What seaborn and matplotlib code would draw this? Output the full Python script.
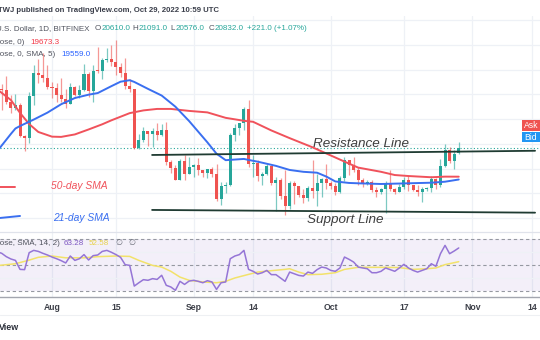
import numpy as np
import pandas as pd
import matplotlib
matplotlib.use("Agg")
import matplotlib.pyplot as plt
from matplotlib.patches import Rectangle
import seaborn as sns

# ---------------- data ----------------
start_date = "2022-07-20"
opens = [23400, 23230, 23160, 22680, 22460, 22580, 21310, 21250, 22950, 23850, 23780, 23640,
         23300, 23270, 22980, 22820, 22620, 23310, 22960, 23180, 23810, 23150, 23950, 23930,
         24400, 24440, 24300, 24100, 23850, 23340, 23200, 20830, 21140, 21520, 21400, 21530,
         21370, 21570, 20260, 20040, 19550, 20290, 19800,
         20050, 20130, 19950, 19830, 19990, 19800, 18790, 19290, 19320, 21360, 21650, 21830,
         22400, 20170, 20230, 19700, 19800, 20110, 19420, 19540, 18880, 18490, 19410, 19290,
         18920, 18800, 19220, 19090, 19410, 19590,
         19420, 19310, 19060, 19630, 20340, 20160, 19960, 19530, 19420, 19450, 19130, 19060,
         19160, 19380, 19180, 19070, 19270, 19550, 19330, 19130, 19040, 19170, 19210, 19570,
         19330, 20090, 20770, 20290, 20610]
highs = [24280, 23420, 23750, 22990, 23000, 22660, 21350, 23080, 24180, 24440, 24650, 24180,
         23500, 23450, 23650, 23200, 23450, 23350, 23380, 24240, 23920, 24200, 24900, 24450,
         24880, 25000, 25200, 24250, 24450, 23600, 23200, 21380, 21700, 21520, 21650, 21850,
         21800, 21870, 20350, 20150, 20400, 20560, 20480,
         20200, 20440, 19960, 20000, 20050, 20170, 19460, 19450, 21450, 21800, 21850, 22480,
         22790, 20530, 20330, 19880, 20180, 20110, 19680, 19640, 19950, 19480, 19500, 19310,
         19180, 19310, 20350, 19780, 19640, 20180,
         19480, 19400, 19710, 20470, 20360, 20450, 20060, 19610, 19550, 19520, 19260, 19220,
         19500, 19950, 19220, 19380, 19680, 19700, 19350, 19340, 19250, 19260, 19700, 19600,
         20400, 21000, 20860, 20750, 21091]
lows = [23000, 22350, 22600, 22260, 22350, 21280, 20720, 21050, 22580, 23450, 23500, 23230,
        22850, 22700, 22700, 22430, 22590, 22950, 22850, 23150, 22880, 22680, 23880, 23600,
        24300, 24150, 23800, 23700, 23200, 23100, 20800, 20780, 21090, 20900, 20880, 21150,
        21310, 20130, 19820, 19520, 19550, 19550, 19800,
        19650, 19750, 19650, 19600, 19650, 18700, 18530, 19000, 19300, 21110, 21360, 21570,
        20060, 19650, 19500, 19320, 19760, 19350, 18270, 18780, 18140, 18370, 18560, 18850,
        18630, 18680, 18820, 18480, 18850, 19160,
        19160, 18930, 19000, 19500, 19760, 19880, 19330, 19270, 19320, 19050, 18860, 18980,
        18200, 19100, 18980, 19070, 19160, 19100, 19080, 18900, 18650, 19110, 19070, 19160,
        19260, 20060, 20220, 20000, 20576]
closes = [23230, 23160, 22680, 22460, 22580, 21310, 21250, 22950, 23850, 23780, 23640, 23300,
          23270, 22980, 22820, 22620, 23310, 22960, 23180, 23810, 23150, 23950, 23930, 24400,
          24440, 24300, 24100, 23850, 23340, 23200, 20830, 21140, 21520, 21400, 21530, 21370,
          21570, 20260, 20040, 19550, 20290, 19800, 20050,
          20130, 19950, 19830, 19990, 19800, 18790, 19290, 19320, 21360, 21650, 21830, 22400,
          20170, 20230, 19700, 19800, 20110, 19420, 19540, 18880, 18490, 19410, 19290, 18920,
          18800, 19220, 19090, 19410, 19590, 19420,
          19310, 19060, 19630, 20340, 20160, 19960, 19530, 19420, 19450, 19130, 19060, 19160,
          19380, 19180, 19070, 19270, 19550, 19330, 19130, 19040, 19170, 19210, 19570, 19330,
          20090, 20770, 20290, 20600, 20832]

# RSI (14) per day, Jul 20 .. Oct 29
rsi_vals = [60.3, 59.1, 56.5, 54.7, 53.6, 46.6, 46.4, 59.6, 61.4, 60.6, 59.1, 57.8,
            56.2, 54.9, 53.4, 51.6, 57.0, 53.6, 54.9, 58.1, 53.9, 57.3,
            57.8, 60.6, 61.4, 59.9, 58.1, 56.0, 50.3, 49.7, 33.6, 36.2,
            38.6, 38.1, 39.4, 38.8, 42.0, 34.2, 32.9, 30.3, 37.3, 34.9,
            37.5, 38.1, 37.3, 36.2, 37.8, 36.8, 31.0, 36.2, 36.8, 54.9,
            57.0, 58.1, 61.4, 46.6, 45.1, 43.0, 44.0, 45.8, 42.5, 42.5,
            39.9, 37.3, 44.5, 43.2, 41.9, 41.4, 44.5, 43.5, 46.4, 48.4,
            47.7, 45.8, 45.1, 47.7, 56.2, 54.4, 52.3, 48.4, 47.7, 47.1,
            44.0, 44.0, 45.1, 47.7, 46.4, 45.1, 47.7, 50.5, 47.7, 45.8,
            44.5, 45.8, 47.1, 51.0, 49.0, 58.8, 65.3, 58.8, 60.9, 63.28]

# RSI-based moving average (yellow)
rsi_ma_dates = ["2022-07-20", "2022-07-24", "2022-07-27", "2022-07-29", "2022-08-01", "2022-08-04",
                "2022-08-08", "2022-08-11", "2022-08-15", "2022-08-18", "2022-08-20", "2022-08-23",
                "2022-08-25", "2022-08-27", "2022-08-29", "2022-08-31", "2022-09-03", "2022-09-06",
                "2022-09-08", "2022-09-10", "2022-09-13", "2022-09-15", "2022-09-18", "2022-09-21",
                "2022-09-22", "2022-09-24", "2022-09-26", "2022-09-29", "2022-10-02", "2022-10-04",
                "2022-10-07", "2022-10-13", "2022-10-16", "2022-10-19", "2022-10-22", "2022-10-24",
                "2022-10-26", "2022-10-29"]
rsi_ma_vals = [49.5, 51.0, 53.8, 56.0, 57.0, 55.6, 55.6, 56.5, 57.0, 56.7, 53.6, 49.7,
               48.4, 45.1, 40.6, 38.1, 36.8, 36.2, 37.3, 39.9, 42.7, 44.5, 45.6, 46.6,
               47.1, 44.5, 42.5, 42.8, 44.0, 46.6, 48.2, 48.2, 48.0, 46.6, 47.1, 47.7,
               50.3, 52.58]

# 50-day SMA (red) and 21-day SMA (blue) as drawn
sma50_dates = ["2022-07-20", "2022-07-23", "2022-07-25", "2022-07-27", "2022-07-29", "2022-08-01",
               "2022-08-03", "2022-08-06", "2022-08-09", "2022-08-12", "2022-08-14", "2022-08-18",
               "2022-08-21", "2022-08-24", "2022-08-27", "2022-08-31", "2022-09-04", "2022-09-08",
               "2022-09-12", "2022-09-14", "2022-09-18", "2022-09-22", "2022-09-27", "2022-10-01",
               "2022-10-05", "2022-10-07", "2022-10-12", "2022-10-15", "2022-10-18", "2022-10-23",
               "2022-10-26", "2022-10-29"]
sma50_vals = [23200, 22770, 22250, 21800, 21480, 21290, 21280, 21380, 21580, 21790, 21950, 22240,
              22350, 22410, 22410, 22330, 22270, 22050, 21930, 21890, 21540, 21230, 20860, 20530,
              20200, 20040, 19870, 19740, 19700, 19650, 19675, 19673]
sma21_dates = ["2022-07-20", "2022-07-23", "2022-07-24", "2022-07-25", "2022-07-28", "2022-07-31",
               "2022-08-03", "2022-08-06", "2022-08-09", "2022-08-11", "2022-08-14", "2022-08-16",
               "2022-08-18", "2022-08-19", "2022-08-22", "2022-08-25", "2022-08-28", "2022-08-31",
               "2022-09-04", "2022-09-06", "2022-09-08", "2022-09-12", "2022-09-13", "2022-09-15",
               "2022-09-19", "2022-09-22", "2022-09-25", "2022-09-28", "2022-09-30", "2022-10-02",
               "2022-10-05", "2022-10-07", "2022-10-12", "2022-10-18", "2022-10-23", "2022-10-26",
               "2022-10-29"]
sma21_vals = [20700, 21400, 21620, 21720, 21980, 22260, 22600, 22850, 22985, 23050, 23330, 23510,
              23570, 23500, 23220, 22950, 22500, 21920, 21060, 20600, 20340, 20390, 20350, 20280,
              20110, 19945, 19870, 19834, 19680, 19480, 19420, 19406, 19378, 19406, 19430, 19470,
              19559]

# hand-drawn trend lines (day offset from Aug 1, price)
resistance_x = [21.9, 105.7]
resistance_y = [20550, 20720]
support_x = [21.9, 105.7]
support_y = [18330, 18220]
sma50_arrow_x = [-11.4, -8.1]
sma50_arrow_y = [19270, 19270]
sma21_arrow_x = [-11.4, -7.0]
sma21_arrow_y = [18005, 18086]

last_price = 20832
tick_dates = ["2022-08-01", "2022-08-15", "2022-09-01", "2022-09-14",
              "2022-10-01", "2022-10-17", "2022-11-01", "2022-11-14"]
tick_labels = ["Aug", "15", "Sep", "14", "Oct", "17", "Nov", "14"]
price_grid = [18000, 19000, 20000, 21000, 22000, 23000, 24000, 25000, 26000]
rsi_grid = [40, 60]
rsi_bands = [30, 50, 70]

# ---------------- style ----------------
sns.set_theme(style="white")
plt.rcParams["font.family"] = ["Liberation Sans", "DejaVu Sans"]

UP = "#26a69a"
DOWN = "#ef5350"
GRID = "#eef1f6"
TXT = "#50535e"

ref = pd.Timestamp("2022-08-01")
def to_day(ds):
    return (pd.to_datetime(pd.Series(ds)) - ref).dt.days.to_numpy()

dates = pd.date_range(start_date, periods=len(opens))
df = pd.DataFrame({"day": (dates - ref).days, "open": opens, "high": highs,
                   "low": lows, "close": closes, "rsi": rsi_vals})

W, H = 540, 340
fig = plt.figure(figsize=(W / 100, H / 100), dpi=100)
def fx(p): return p / W
def fy(p): return 1 - p / H

XL = (-11.38, 106.78)
ax = fig.add_axes([0, fy(232), 1, fy(16) - fy(232)])
ax_r = fig.add_axes([0, fy(297), 1, fy(232) - fy(297)])
for a in (ax, ax_r):
    a.set_xlim(*XL)
    a.set_facecolor("white")
    for s in a.spines.values():
        s.set_visible(False)
    a.tick_params(left=False, labelleft=False, bottom=False, labelbottom=False)
ax.set_ylim(17439, 26163)
ax_r.set_ylim(25.1, 75.7)

tick_days = to_day(tick_dates)
# grid
for a in (ax, ax_r):
    for t in tick_days:
        a.axvline(t, color=GRID, lw=0.9, zorder=0)
for g in price_grid:
    ax.axhline(g, color=GRID, lw=0.9, zorder=0)

# candles
up = df["close"] >= df["open"]
cols = np.where(up, UP, DOWN)
ax.vlines(df["day"], df["low"], df["high"], colors=cols, lw=0.9, alpha=0.6, zorder=2)
bottom = np.minimum(df["open"], df["close"])
height = np.maximum(np.abs(df["close"] - df["open"]), 45)
ax.bar(df["day"], height, bottom=bottom, width=0.66, color=cols, linewidth=0, zorder=3)

# moving averages
s50 = pd.DataFrame({"day": to_day(sma50_dates), "v": sma50_vals})
s21 = pd.DataFrame({"day": to_day(sma21_dates), "v": sma21_vals})
sns.lineplot(data=s50, x="day", y="v", ax=ax, color="#f0525b", lw=1.4, estimator=None, sort=False, zorder=4)
sns.lineplot(data=s21, x="day", y="v", ax=ax, color="#3a6ff0", lw=1.4, estimator=None, sort=False, zorder=4)

# last price dotted line
ax.axhline(last_price, color=UP, lw=0.8, ls=(0, (1, 2)), zorder=1)

# trend lines and arrows
ax.plot(resistance_x, resistance_y, color="#1f3b32", lw=1.3, zorder=5)
ax.plot(support_x, support_y, color="#1f3b32", lw=1.3, zorder=5)
ax.plot(sma50_arrow_x, sma50_arrow_y, color="#f0525b", lw=1.4, zorder=5)
ax.plot(sma21_arrow_x, sma21_arrow_y, color="#3a6ff0", lw=1.4, zorder=5)
ax.set_xlabel(""); ax.set_ylabel("")

# RSI panel
ax_r.axhspan(rsi_bands[0], rsi_bands[2], color="#7e57c2", alpha=0.09, lw=0, zorder=0)
for g in rsi_grid:
    ax_r.axhline(g, color=GRID, lw=0.9, zorder=0.5)
for b in rsi_bands:
    ax_r.axhline(b, color="#9598a1", lw=0.8, ls=(0, (3, 2.5)), zorder=1)
rma = pd.DataFrame({"day": to_day(rsi_ma_dates), "v": rsi_ma_vals})
sns.lineplot(data=rma, x="day", y="v", ax=ax_r, color="#f2e26a", lw=1.1, estimator=None, sort=False, zorder=3)
sns.lineplot(data=df, x="day", y="rsi", ax=ax_r, color="#9575d6", lw=1.1, estimator=None, sort=False, zorder=4)
ax_r.set_xlabel(""); ax_r.set_ylabel("")
ax_r.spines["top"].set_visible(True)
ax_r.spines["top"].set_color("#e0e3eb")
ax_r.spines["top"].set_linewidth(0.9)
ax_r.spines["bottom"].set_visible(True)
ax_r.spines["bottom"].set_color("#a3a6af")
ax_r.spines["bottom"].set_linewidth(1.0)
ax_r.set_xticks(tick_days)
ax_r.set_xticklabels(tick_labels)
ax_r.tick_params(bottom=False, labelbottom=True, length=0, pad=4.5, labelsize=6.2, labelcolor="#3c3f48")
for lab in ax_r.get_xticklabels():
    lab.set_fontweight("bold")

# annotations
it = dict(style="italic", fontsize=9.7, color="#3e3e3e", va="baseline", ha="left")
fig.text(fx(313), fy(147.3), "Resistance Line", **it)
fig.text(fx(306.7), fy(222.7), "Support Line", **it)
fig.text(fx(50.7), fy(188.7), "50-day SMA", style="italic", fontsize=7.4, color="#f0525b", va="baseline")
fig.text(fx(52.7), fy(221), "21-day SMA", style="italic", fontsize=7.4, color="#3a6ff0", va="baseline")

# header / legends
renderer = fig.canvas.get_renderer()
def t(x, y, s, c=TXT, size=5.8, w="normal"):
    return fig.text(fx(x), fy(y), s, color=c, fontsize=size, va="center", ha="left", fontweight=w)

def right_edge(txt):
    return txt.get_window_extent(renderer).x1  # pixels from left

t(-2, 10, "TWJ published on TradingView.com, Oct 29, 2022 10:59 UTC", c="#3a3e4a", size=5.6, w="bold")
t(-4, 29, "U.S. Dollar, 1D, BITFINEX")
for lx, lab, val in [(94.3, "O", "20610.0"), (132.3, "H", "21091.0"),
                     (170.7, "L", "20576.0"), (208.3, "C", "20832.0")]:
    lt = t(lx, 29, lab)
    t(right_edge(lt) + 0.6, 29, val, c=UP)
t(246.7, 29, "+221.0 (+1.07%)", c=UP)
t(-6.5, 42, "close, 0)"); t(30, 42, "19673.3", c="#f23645")
t(-6.5, 55, "close, 0, SMA, 5)"); t(61, 55, "19559.0", c="#2962ff")
t(-6.5, 243.5, "close, SMA, 14, 2)"); t(63.3, 243.5, "63.28", c="#7e57c2")
t(88.3, 243.5, "52.58", c="#e8d24a")
t(115, 243.5, "\u2205", c="#6a6d78"); t(128.3, 243.5, "\u2205", c="#6a6d78")
t(-1, 328, "View", c="#2a2e39", size=6.4, w="bold")

# Ask / Bid tags
fig.patches.append(Rectangle((fx(521.5), fy(130.7)), fx(19), fy(120) - fy(130.7),
                             transform=fig.transFigure, color="#ef5350", lw=0))
fig.patches.append(Rectangle((fx(521.5), fy(142.3)), fx(19), fy(131.7) - fy(142.3),
                             transform=fig.transFigure, color="#2196f3", lw=0))
fig.text(fx(524), fy(125.5), "Ask", color="white", fontsize=6.2, va="center", ha="left")
fig.text(fx(524), fy(137), "Bid", color="white", fontsize=6.2, va="center", ha="left")

# thin separator below time axis
fig.add_artist(plt.Line2D([0, 1], [fy(315), fy(315)], color="#eef0f3", lw=0.8))

fig.savefig("out.png", dpi=100, facecolor="white")
